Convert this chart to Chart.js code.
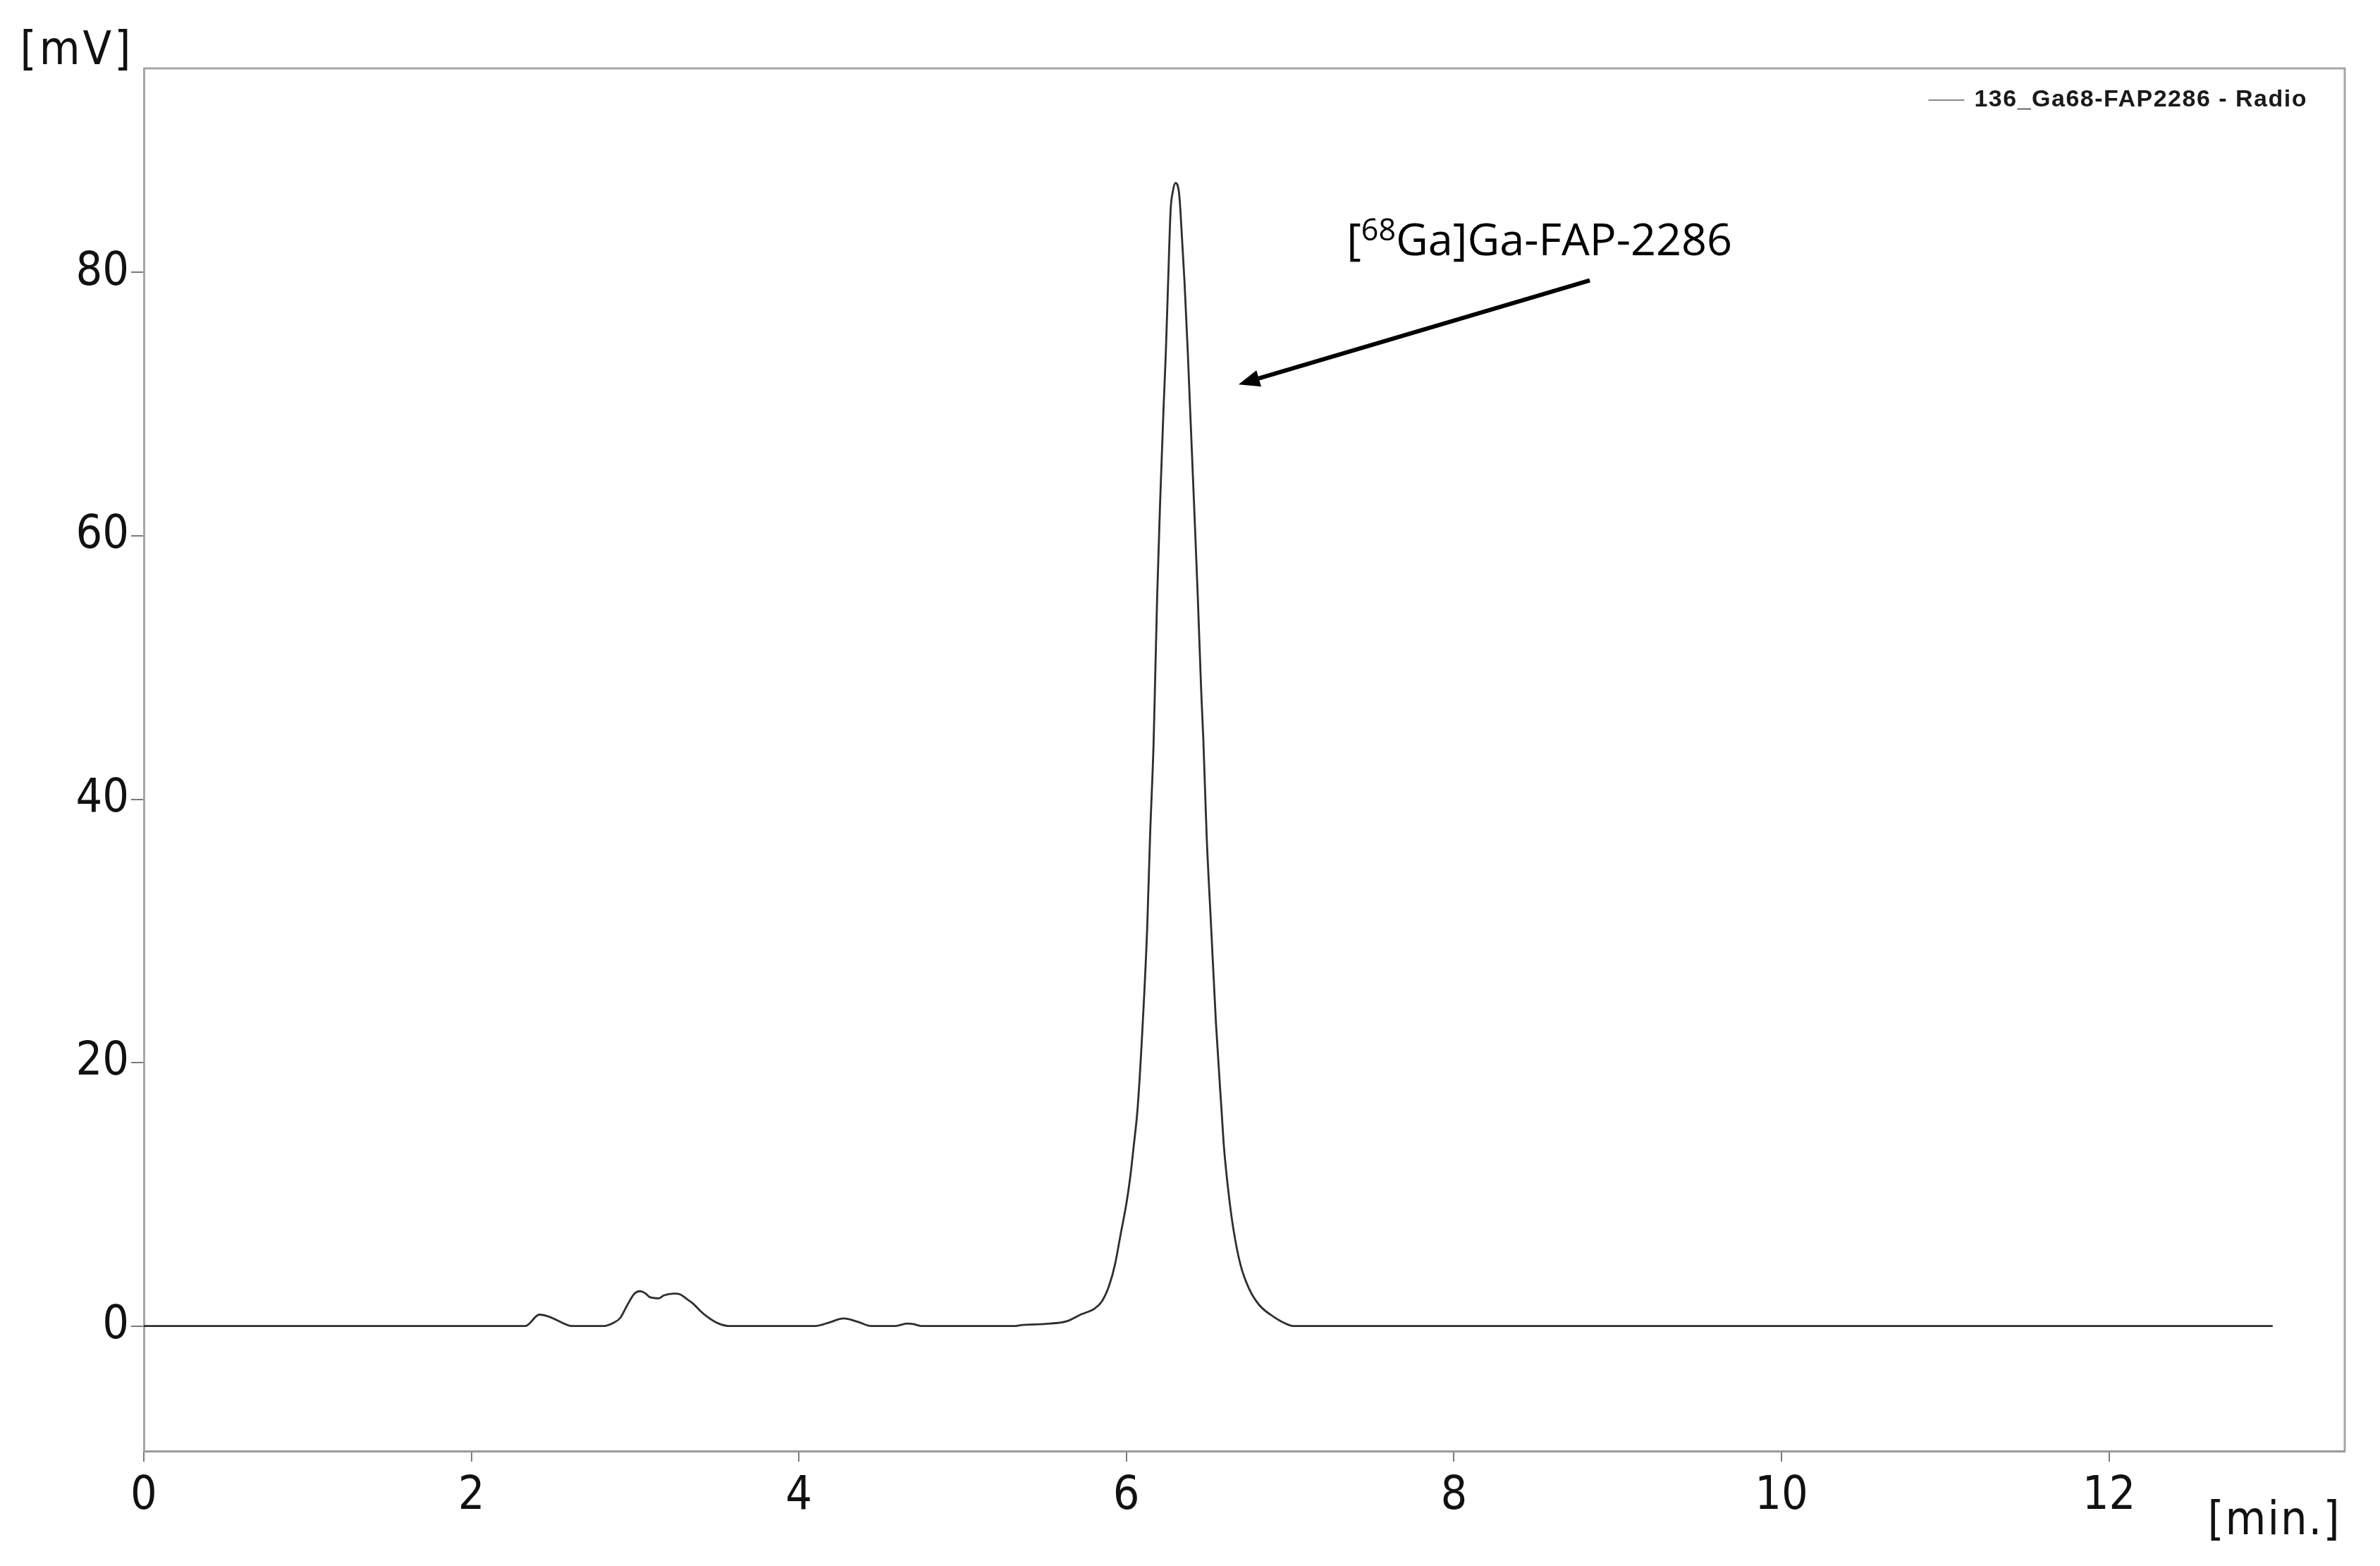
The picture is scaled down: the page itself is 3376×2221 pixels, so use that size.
<!DOCTYPE html>
<html><head><meta charset="utf-8">
<script src="https://cdn.jsdelivr.net/npm/chart.js@4/dist/chart.umd.min.js"></script>
<style>html,body{margin:0;padding:0;background:#fff;overflow:hidden}canvas{display:block}</style>
</head><body>
<canvas id="c" width="3376" height="2221" style="width:3376px;height:2221px"></canvas>
<script>
// ---- data ----
const seriesLabel = '136_Ga68-FAP2286 - Radio';
const retentionTimes = [
  0, 2.33, 2.415, 2.48, 2.55, 2.61, 2.81, 2.867, 2.91, 2.953, 2.996, 3.03, 3.06, 3.09, 3.146, 3.175,
  3.24, 3.275, 3.31, 3.354, 3.397, 3.44, 3.505, 3.57, 4.10, 4.187, 4.273, 4.36, 4.44, 4.59, 4.66, 4.70,
  4.746, 5.32, 5.35, 5.535, 5.636, 5.72, 5.808, 5.851, 5.894, 5.93, 5.965, 6.00, 6.023, 6.044, 6.069,
  6.10, 6.127, 6.145, 6.166, 6.174, 6.188, 6.206, 6.227, 6.241, 6.255, 6.27, 6.283, 6.30, 6.321, 6.33,
  6.355, 6.375, 6.389, 6.413, 6.436, 6.457, 6.47, 6.49, 6.518, 6.547, 6.58, 6.596, 6.625, 6.654, 6.697,
  6.748, 6.81, 6.898, 6.998, 7.02, 13.0
];
const signalMV = [
  0, 0, 0.86, 0.68, 0.27, 0, 0, 0.23, 0.62, 1.6, 2.45, 2.64, 2.5, 2.19, 2.1, 2.32,
  2.46, 2.4, 2.1, 1.7, 1.16, 0.71, 0.21, 0, 0, 0.27, 0.57, 0.32, 0, 0, 0.18, 0.14,
  0, 0, 0.05, 0.18, 0.36, 0.86, 1.34, 1.88, 3.04, 4.64, 6.97, 9.29, 11.25, 13.57, 16.6,
  23.0, 30.2, 37.3, 44.2, 48.2, 55.4, 62.5, 69.7, 73.95, 79.3, 84.7, 86.1, 86.8, 86.1, 84.7,
  79.3, 73.95, 69.7, 62.5, 55.4, 48.2, 44.5, 37.3, 30.2, 23.0, 16.6, 13.57, 10.0, 7.32, 4.64,
  2.86, 1.61, 0.71, 0.05, 0, 0
];
const xTickValues = [0, 2, 4, 6, 8, 10, 12];
const yTickValues = [0, 20, 40, 60, 80];
const xAxisTitle = '[min.]';
const yAxisTitle = '[mV]';
const peakLabelParts = ['[', '68', 'Ga]Ga-FAP-2286'];

// ---- annotation placement (data coordinates) ----
const annotTextAt = { x: 7.345, y: 81.3 };
const arrowFrom = { x: 8.83, y: 79.4 };
const arrowTo = { x: 6.685, y: 71.5 };

const TICK_FAMILY = '"DejaVu Sans Condensed", "DejaVu Sans", sans-serif';
const TICK_FONT = { family: TICK_FAMILY, size: 66 };

const decorPlugin = {
  id: 'decor',
  beforeDatasetsDraw(chart) {
    const { ctx, chartArea: a } = chart;
    ctx.save();
    ctx.strokeStyle = '#a6a6a6';
    ctx.lineWidth = 3;
    ctx.beginPath();
    ctx.moveTo(a.left, a.top);
    ctx.lineTo(a.right, a.top);
    ctx.lineTo(a.right, a.bottom);
    ctx.stroke();
    ctx.restore();
  },
  afterDraw(chart) {
    const { ctx, scales, chartArea: a } = chart;
    const ds = chart.data.datasets[0];
    ctx.save();
    // legend (top-right inside plot)
    ctx.font = 'bold 34px "Liberation Sans", Arial, sans-serif';
    ctx.letterSpacing = '1.5px';
    const legTextW = ctx.measureText(ds.label).width;
    const legRight = a.right - 53;
    const legY = 142;
    const legTextX = legRight - legTextW;
    ctx.strokeStyle = '#8a8a8a';
    ctx.lineWidth = 2;
    ctx.beginPath();
    ctx.moveTo(legTextX - 65, legY);
    ctx.lineTo(legTextX - 14, legY);
    ctx.stroke();
    ctx.fillStyle = '#1a1a1a';
    ctx.textAlign = 'left';
    ctx.textBaseline = 'middle';
    ctx.fillText(ds.label, legTextX, legY);

    // axis titles
    ctx.fillStyle = '#111';
    ctx.font = '66px ' + TICK_FAMILY;
    ctx.textAlign = 'center';
    ctx.textBaseline = 'middle';
    ctx.letterSpacing = '4px';
    ctx.fillText(yAxisTitle, 109, 74);
    ctx.letterSpacing = '2px';
    ctx.fillText(xAxisTitle, 3226, 2159);
    ctx.letterSpacing = '0px';

    // peak annotation text
    const tx = scales.x.getPixelForValue(annotTextAt.x);
    const ty = scales.y.getPixelForValue(annotTextAt.y);
    const mainFont = '63px "Open Sans", "Noto Sans", sans-serif';
    const supFont = '43px "Open Sans", "Noto Sans", sans-serif';
    ctx.textAlign = 'left';
    ctx.textBaseline = 'alphabetic';
    ctx.fillStyle = '#000';
    let cx = tx;
    ctx.font = mainFont;
    ctx.fillText(peakLabelParts[0], cx, ty);
    cx += ctx.measureText(peakLabelParts[0]).width;
    ctx.font = supFont;
    ctx.fillText(peakLabelParts[1], cx, ty - 21);
    cx += ctx.measureText(peakLabelParts[1]).width;
    ctx.font = mainFont;
    ctx.fillText(peakLabelParts[2], cx, ty);

    // arrow
    const x0 = scales.x.getPixelForValue(arrowFrom.x), y0 = scales.y.getPixelForValue(arrowFrom.y);
    const x1 = scales.x.getPixelForValue(arrowTo.x), y1 = scales.y.getPixelForValue(arrowTo.y);
    const ang = Math.atan2(y1 - y0, x1 - x0);
    const headLen = 30, headHalf = 12;
    const bx = x1 - headLen * Math.cos(ang), by = y1 - headLen * Math.sin(ang);
    ctx.strokeStyle = '#000';
    ctx.lineWidth = 6;
    ctx.beginPath();
    ctx.moveTo(x0, y0);
    ctx.lineTo(bx, by);
    ctx.stroke();
    ctx.beginPath();
    ctx.moveTo(x1, y1);
    ctx.lineTo(bx + headHalf * Math.sin(ang), by - headHalf * Math.cos(ang));
    ctx.lineTo(bx - headHalf * Math.sin(ang), by + headHalf * Math.cos(ang));
    ctx.closePath();
    ctx.fill();
    ctx.restore();
  }
};

const ctx = document.getElementById('c').getContext('2d');
const chart = new Chart(ctx, {
  type: 'line',
  data: {
    datasets: [{
      label: seriesLabel,
      data: retentionTimes.map((t, i) => ({ x: t, y: signalMV[i] })),
      borderColor: '#2e2e2e',
      backgroundColor: '#8a8a8a',
      borderWidth: 2.8,
      pointRadius: 0,
      fill: false,
      cubicInterpolationMode: 'monotone'
    }]
  },
  options: {
    responsive: false,
    animation: false,
    devicePixelRatio: 1,
    layout: { padding: { top: 97, right: 50, left: 0, bottom: 0 } },
    plugins: {
      tooltip: { enabled: false },
      legend: { display: false }
    },
    scales: {
      x: {
        type: 'linear', min: 0, max: 13.44,
        afterBuildTicks: s => { s.ticks = xTickValues.map(v => ({ value: v })); },
        afterFit: s => { s.height = 163; },
        ticks: { font: TICK_FONT, color: '#111', padding: 10, maxRotation: 0, autoSkip: false },
        grid: { drawOnChartArea: false, drawTicks: true, tickLength: 15, color: '#7a7a7a', lineWidth: 2 },
        border: { display: true, color: '#9a9a9a', width: 3 }
      },
      y: {
        type: 'linear', min: -9.5, max: 95.5,
        afterBuildTicks: s => { s.ticks = yTickValues.map(v => ({ value: v })); },
        afterFit: s => { s.width = 204; },
        ticks: { font: TICK_FONT, color: '#111', padding: 3, autoSkip: false },
        grid: { drawOnChartArea: false, drawTicks: true, tickLength: 18, color: '#7a7a7a', lineWidth: 2 },
        border: { display: true, color: '#a6a6a6', width: 3 }
      }
    }
  },
  plugins: [decorPlugin]
});
</script>
</body></html>
